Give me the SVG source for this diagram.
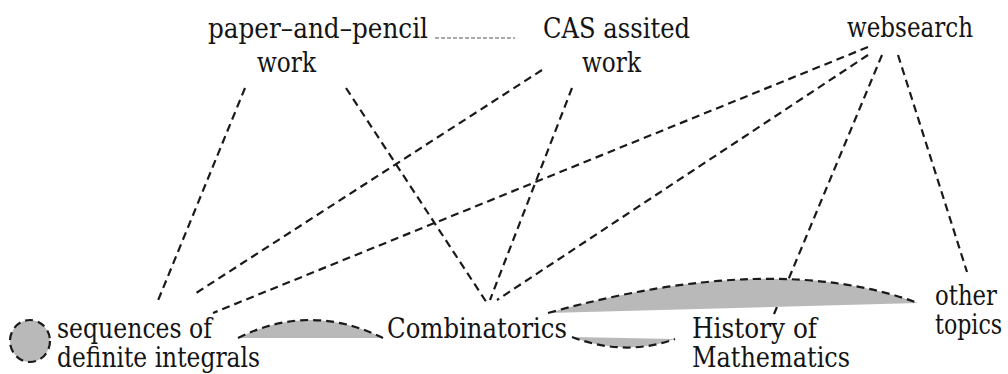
<svg xmlns="http://www.w3.org/2000/svg" width="1008" height="374" viewBox="0 0 1008 374">
<style>
.t text{font-family:'DejaVu Serif','Liberation Serif',serif;font-size:27px;fill:#141414}
.c{fill:none;stroke:#1a1a1a;stroke-width:2.2;stroke-dasharray:8 5}
.g{fill:#b9b9b9;stroke:none}
.a{fill:none;stroke:#1a1a1a;stroke-width:2.2;stroke-dasharray:8 5}
</style>
<rect width="1008" height="374" fill="#fff"/>
<g id="connectors">
<line class="c" x1="245" y1="88" x2="157" y2="303"/>
<line class="c" x1="542" y1="70" x2="193" y2="295"/>
<line class="c" x1="868" y1="47" x2="213" y2="313"/>
<line class="c" x1="346" y1="88" x2="487" y2="303"/>
<line class="c" x1="572" y1="88" x2="490" y2="300"/>
<line class="c" x1="868" y1="55" x2="497" y2="300"/>
<line class="c" x1="882" y1="55" x2="774" y2="314"/>
<line class="c" x1="898" y1="55" x2="967" y2="272"/>
<line x1="435" y1="38" x2="515" y2="38" stroke="#555" stroke-width="1.2" stroke-dasharray="4 2"/>
</g>
<g id="paper-and-pencil" class="t">
<text x="208" y="38" textLength="220" lengthAdjust="spacingAndGlyphs">paper–and–pencil</text>
<text x="257" y="72" textLength="59" lengthAdjust="spacingAndGlyphs">work</text>
</g>
<g id="cas" class="t">
<text x="543" y="38" textLength="147" lengthAdjust="spacingAndGlyphs">CAS assited</text>
<text x="582" y="72" textLength="59" lengthAdjust="spacingAndGlyphs">work</text>
</g>
<g id="websearch" class="t">
<text x="847" y="37" textLength="126" lengthAdjust="spacingAndGlyphs">websearch</text>
</g>
<g id="sequences">
<ellipse cx="30" cy="341" rx="20" ry="21" fill="#b9b9b9" stroke="#1a1a1a" stroke-width="2.2" stroke-dasharray="8 5"/>
<g class="t">
<text x="57" y="338" textLength="155" lengthAdjust="spacingAndGlyphs">sequences of</text>
<text x="57" y="367" textLength="203" lengthAdjust="spacingAndGlyphs">definite integrals</text>
</g>
</g>
<g id="lens-seq-comb">
<path class="g" d="M238,338 Q310,302 383,338 Z"/>
<path class="a" d="M238,338 Q310,302 383,338"/>
</g>
<g id="combinatorics" class="t">
<text x="387" y="338" textLength="180" lengthAdjust="spacingAndGlyphs">Combinatorics</text>
</g>
<g id="lens-comb-below">
<path class="g" d="M572,337 Q625,357 675,339 Z"/>
<path class="a" d="M572,337 Q625,357 675,339"/>
</g>
<g id="lens-comb-other">
<path class="g" d="M548,313 Q773,250 918,303 L548,313 Z"/>
<path class="a" d="M548,313 Q773,250 918,303"/>
</g>
<g id="history" class="t">
<text x="692" y="338" textLength="125" lengthAdjust="spacingAndGlyphs">History of</text>
<text x="692" y="367" textLength="158" lengthAdjust="spacingAndGlyphs">Mathematics</text>
</g>
<g id="other" class="t">
<text x="935" y="305" textLength="62" lengthAdjust="spacingAndGlyphs">other</text>
<text transform="translate(935,334) scale(0.82,1)" x="0" y="0">topics</text>
</g>
</svg>
